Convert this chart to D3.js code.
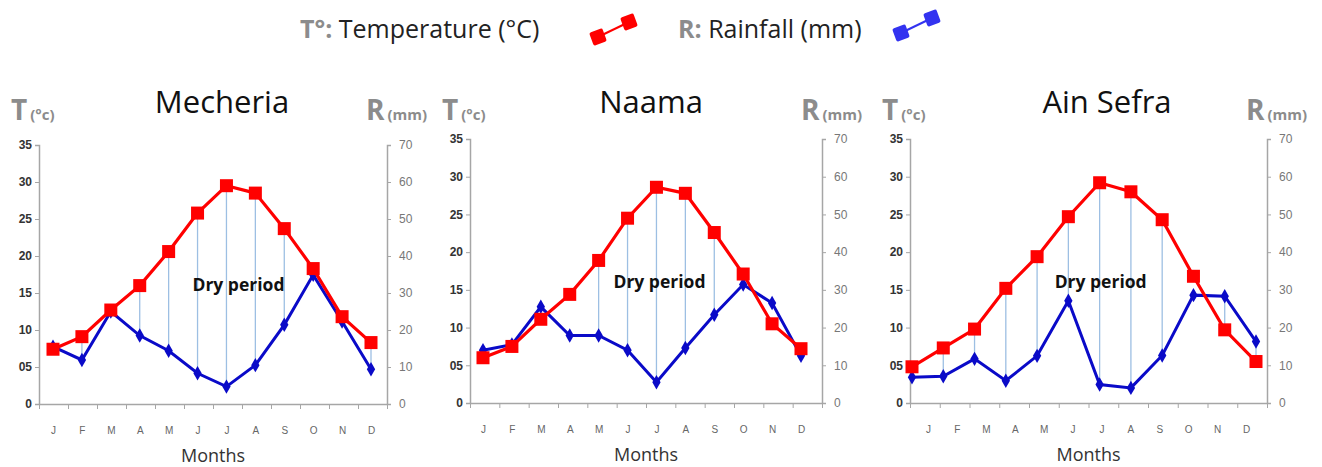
<!DOCTYPE html>
<html>
<head>
<meta charset="utf-8">
<script src="https://cdn.jsdelivr.net/npm/d3@7"></script>
<style>
  body { margin: 0; background: #fff; }
  svg { display: block; font-family: "Open Sans", sans-serif; }
</style>
</head>
<body>
<div id="chart"></div>
<script>
// climate data
var months = ["J", "F", "M", "A", "M", "J", "J", "A", "S", "O", "N", "D"];
var stations = ["Mecheria", "Naama", "Ain Sefra"];

var mecheriaTemp = [7.4, 9.1, 12.7, 16.0, 20.6, 25.8, 29.5, 28.5, 23.7, 18.3, 11.8, 8.3];
var mecheriaRain = [15.5, 11.9, 25.0, 18.5, 14.4, 8.3, 4.7, 10.5, 21.4, 34.9, 22.3, 9.4];
var naamaTemp = [6.0, 7.5, 11.1, 14.4, 18.9, 24.5, 28.6, 27.8, 22.6, 17.1, 10.5, 7.2];
var naamaRain = [14.0, 15.5, 25.5, 17.9, 17.9, 14.0, 5.5, 14.6, 23.4, 31.4, 26.5, 12.5];
var ainSefraTemp = [4.8, 7.3, 9.8, 15.2, 19.4, 24.7, 29.2, 28.0, 24.3, 16.8, 9.7, 5.5];
var ainSefraRain = [6.8, 7.1, 11.7, 5.9, 12.5, 27.1, 4.9, 4.0, 12.6, 28.6, 28.3, 16.3];

// months hatched as "dry period" (index into months)
var mecheriaDry = [1, 3, 4, 5, 6, 7, 8, 11];
var naamaDry = [4, 5, 6, 7, 8];
var ainSefraDry = [1, 2, 3, 4, 5, 6, 7, 8, 10, 11];

var tempTicks = [0, 5, 10, 15, 20, 25, 30, 35];
var rainTicks = [0, 10, 20, 30, 40, 50, 60, 70];

var temps = [mecheriaTemp, naamaTemp, ainSefraTemp];
var rains = [mecheriaRain, naamaRain, ainSefraRain];
var drys = [mecheriaDry, naamaDry, ainSefraDry];

// panel layout (pixels)
var panels = [
  {left: 39, right: 387, top: 145, bottom: 404, p0: 53, p1: 371, lab0: 53, lab1: 371, title: 222, dry: 12},
  {left: 470, right: 822, top: 139, bottom: 403, p0: 483, p1: 801, lab0: 483, lab1: 801, title: 651, dry: 3},
  {left: 910, right: 1267, top: 139, bottom: 403, p0: 912, p1: 1256, lab0: 928, lab1: 1246, title: 1107, dry: 1}
];

var RED = "#ff0000", BLUE = "#0a0ac8", AXIS = "#a6a6a6";

var svg = d3.select("#chart").append("svg")
  .attr("width", 1322)
  .attr("height", 467);

// legend
var legend = svg.append("g").attr("class", "legend");
legend.append("text").attr("x", 300).attr("y", 38)
  .attr("font-size", 25).attr("fill", "#222")
  .html('<tspan fill="#8c8c8c" font-weight="bold">T°:</tspan> Temperature (°C)');
legend.append("text").attr("x", 678).attr("y", 38)
  .attr("font-size", 25).attr("fill", "#222")
  .html('<tspan fill="#8c8c8c" font-weight="bold">R:</tspan> Rainfall (mm)');

function legendIcon(x1, y1, x2, y2, color) {
  var g = legend.append("g");
  g.append("line").attr("x1", x1).attr("y1", y1).attr("x2", x2).attr("y2", y2)
    .attr("stroke", color).attr("stroke-width", 2);
  [[x1, y1], [x2, y2]].forEach(function(p) {
    g.append("rect").attr("x", -7).attr("y", -7).attr("width", 14).attr("height", 14)
      .attr("rx", 2).attr("fill", color)
      .attr("transform", "translate(" + p[0] + "," + p[1] + ") rotate(-20)");
  });
}
legendIcon(598, 37, 629, 22, RED);
legendIcon(901, 33, 932, 18, "#3333f0");

function fmtTemp(d) { return d < 10 && d > 0 ? "0" + d : String(d); }

panels.forEach(function(p, i) {
  var g = svg.append("g").attr("class", "panel");

  var yT = d3.scaleLinear().domain([0, 35]).range([p.bottom, p.top]);
  var yR = d3.scaleLinear().domain([0, 70]).range([p.bottom, p.top]);
  var x = d3.scalePoint().domain(d3.range(12)).range([p.p0, p.p1]);
  var xLab = d3.scalePoint().domain(d3.range(12)).range([p.lab0, p.lab1]);
  var xTick = d3.scaleLinear().domain([0, 12]).range([p.left, p.right]);

  // left axis
  var la = g.append("g").attr("transform", "translate(" + p.left + ",0)")
    .call(d3.axisLeft(yT).tickValues(tempTicks).tickFormat(fmtTemp).tickSize(4).tickPadding(3));
  la.select(".domain").attr("stroke", AXIS).attr("stroke-width", 1.5);
  la.selectAll(".tick line").attr("stroke", AXIS);
  la.selectAll("text").attr("font-size", 12).attr("font-weight", "bold").attr("fill", "#333");

  // right axis
  var ra = g.append("g").attr("transform", "translate(" + p.right + ",0)")
    .call(d3.axisRight(yR).tickValues(rainTicks).tickSize(4).tickPadding(8));
  ra.select(".domain").attr("stroke", AXIS).attr("stroke-width", 1.5);
  ra.selectAll(".tick line").attr("stroke", AXIS);
  ra.selectAll("text").attr("font-size", 12).attr("fill", "#777");

  // x axis with ticks between months
  var xa = g.append("g").attr("transform", "translate(0," + p.bottom + ")")
    .call(d3.axisBottom(xTick).tickValues(d3.range(13)).tickFormat("").tickSize(5).tickSizeOuter(0));
  xa.select(".domain").attr("stroke", AXIS).attr("stroke-width", 1.5);
  xa.selectAll(".tick line").attr("stroke", AXIS);

  var ml = g.append("g").attr("transform", "translate(0," + (p.bottom + 20) + ")")
    .call(d3.axisBottom(xLab).tickFormat(function(d) { return months[d]; }).tickSize(0));
  ml.select(".domain").remove();
  ml.selectAll("text").attr("font-size", 10).attr("fill", "#666");

  g.append("text").attr("x", (p.left + p.right) / 2).attr("y", p.bottom + 58)
    .attr("text-anchor", "middle").attr("font-size", 18).attr("fill", "#333").text("Months");

  // titles
  g.append("text").attr("x", p.title).attr("y", 113).attr("text-anchor", "middle")
    .attr("font-size", 31).attr("fill", "#111").text(stations[i]);
  g.append("text").attr("x", p.left - 28).attr("y", 120)
    .attr("fill", "#8c8c8c").attr("font-weight", "bold")
    .html('<tspan font-size="28">T</tspan><tspan font-size="15" dx="3">(°c)</tspan>');
  g.append("text").attr("x", p.right - 21).attr("y", 120)
    .attr("fill", "#8c8c8c").attr("font-weight", "bold")
    .html('<tspan font-size="28">R</tspan><tspan font-size="15" dx="3">(mm)</tspan>');

  var t = temps[i], r = rains[i];

  // dry period hatching
  g.selectAll(".hatch").data(drys[i]).enter().append("line")
    .attr("class", "hatch")
    .attr("x1", function(d) { return x(d); }).attr("x2", function(d) { return x(d); })
    .attr("y1", function(d) { return yT(t[d]); })
    .attr("y2", function(d) { return yR(r[d]); })
    .attr("stroke", "#9dbfe3").attr("stroke-width", 1.3);

  g.append("text").attr("x", x(6) + p.dry).attr("y", yT(15.3))
    .attr("text-anchor", "middle").attr("font-size", 17.5).attr("font-weight", "bold")
    .attr("fill", "#111").text("Dry period");

  // rainfall line
  var lineR = d3.line().x(function(d, j) { return x(j); }).y(function(d) { return yR(d); });
  g.append("path").datum(r).attr("d", lineR)
    .attr("fill", "none").attr("stroke", BLUE).attr("stroke-width", 3);
  g.selectAll(".rpt").data(r).enter().append("path")
    .attr("class", "rpt")
    .attr("d", d3.symbol().type(d3.symbolDiamond).size(60))
    .attr("transform", function(d, j) { return "translate(" + x(j) + "," + yR(d) + ")"; })
    .attr("fill", BLUE);

  // temperature line
  var lineT = d3.line().x(function(d, j) { return x(j); }).y(function(d) { return yT(d); });
  g.append("path").datum(t).attr("d", lineT)
    .attr("fill", "none").attr("stroke", RED).attr("stroke-width", 3.2);
  g.selectAll(".tpt").data(t).enter().append("rect")
    .attr("class", "tpt")
    .attr("x", function(d, j) { return x(j) - 6.5; })
    .attr("y", function(d) { return yT(d) - 6.5; })
    .attr("width", 13).attr("height", 13)
    .attr("fill", RED);
});
</script>
</body>
</html>
